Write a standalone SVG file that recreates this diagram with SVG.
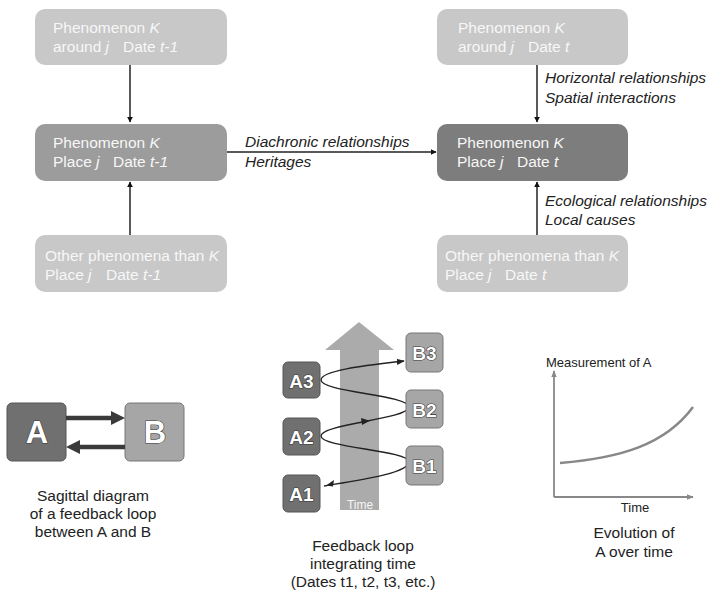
<svg xmlns="http://www.w3.org/2000/svg" width="710" height="591" viewBox="0 0 710 591">
<style>
text{font-family:"Liberation Sans",Arial,sans-serif}
.bt{fill:#f7f7f7;font-size:15.5px}
.it{font-style:italic}
.lbl{fill:#222;font-size:15.5px;font-style:italic}
.cap{fill:#222;font-size:15.5px;text-anchor:middle}
.light{fill:#c8c8c8}
.mid{fill:#9c9c9c}
.dark{fill:#7d7d7d}
.conn{stroke:#222;stroke-width:1.5;fill:none}
.big{font-weight:bold;fill:#fff;stroke:#3a3a3a;stroke-width:1.2;paint-order:stroke;text-anchor:middle}
.abox{fill:#707070;stroke:#555;stroke-width:1}
.bbox{fill:#a6a6a6;stroke:#777;stroke-width:1}
</style>
<defs>
<marker id="ah" viewBox="0 0 10 10" refX="9" refY="5" markerWidth="6" markerHeight="6" orient="auto" markerUnits="userSpaceOnUse">
<path d="M0,0 L10,5 L0,10 z" fill="#111"/>
</marker>
<marker id="ahs" viewBox="0 0 10 10" refX="9" refY="5" markerWidth="8" markerHeight="8" orient="auto" markerUnits="userSpaceOnUse">
<path d="M0,1 L10,5 L0,9 z" fill="#222"/>
</marker>
<marker id="ahg" viewBox="0 0 10 10" refX="9" refY="5" markerWidth="7" markerHeight="7" orient="auto" markerUnits="userSpaceOnUse">
<path d="M0,1 L10,5 L0,9 z" fill="#888"/>
</marker>
</defs>

<!-- top section nodes -->
<g id="n-left-top">
<rect class="light" x="35" y="9" width="192" height="56" rx="10"/>
<text class="bt" x="53" y="33">Phenomenon <tspan class="it">K</tspan></text>
<text class="bt" x="53" y="52">around <tspan class="it">j</tspan><tspan x="123">Date </tspan><tspan class="it">t-1</tspan></text>
</g>
<g id="n-left-mid">
<rect class="mid" x="35" y="124" width="192" height="57" rx="10"/>
<text class="bt" x="53" y="148">Phenomenon <tspan class="it">K</tspan></text>
<text class="bt" x="53" y="167">Place <tspan class="it">j</tspan><tspan x="113">Date </tspan><tspan class="it">t-1</tspan></text>
</g>
<g id="n-left-bot">
<rect class="light" x="35" y="235" width="192" height="57" rx="10"/>
<text class="bt" x="45" y="261">Other phenomena than <tspan class="it">K</tspan></text>
<text class="bt" x="45" y="280">Place <tspan class="it">j</tspan><tspan x="106">Date </tspan><tspan class="it">t-1</tspan></text>
</g>
<g id="n-right-top">
<rect class="light" x="437" y="9" width="191" height="56" rx="10"/>
<text class="bt" x="458" y="33">Phenomenon <tspan class="it">K</tspan></text>
<text class="bt" x="458" y="52">around <tspan class="it">j</tspan><tspan x="528">Date </tspan><tspan class="it">t</tspan></text>
</g>
<g id="n-right-mid">
<rect class="dark" x="437" y="124" width="191" height="57" rx="10"/>
<text class="bt" x="457" y="148">Phenomenon <tspan class="it">K</tspan></text>
<text class="bt" x="457" y="167">Place <tspan class="it">j</tspan><tspan x="517">Date </tspan><tspan class="it">t</tspan></text>
</g>
<g id="n-right-bot">
<rect class="light" x="437" y="235" width="191" height="57" rx="10"/>
<text class="bt" x="445" y="261">Other phenomena than <tspan class="it">K</tspan></text>
<text class="bt" x="445" y="280">Place <tspan class="it">j</tspan><tspan x="505">Date </tspan><tspan class="it">t</tspan></text>
</g>

<g id="connectors">
<line class="conn" x1="130" y1="65" x2="130" y2="122" marker-end="url(#ah)"/>
<line class="conn" x1="130" y1="235" x2="130" y2="182" marker-end="url(#ah)"/>
<line class="conn" x1="227" y1="152" x2="436" y2="152" marker-end="url(#ah)"/>
<line class="conn" x1="537" y1="65" x2="537" y2="122" marker-end="url(#ah)"/>
<line class="conn" x1="537" y1="235" x2="537" y2="182" marker-end="url(#ah)"/>
</g>
<g id="labels">
<text class="lbl" x="245" y="147">Diachronic relationships</text>
<text class="lbl" x="245" y="167">Heritages</text>
<text class="lbl" x="545" y="83">Horizontal relationships</text>
<text class="lbl" x="545" y="103">Spatial interactions</text>
<text class="lbl" x="545" y="206">Ecological relationships</text>
<text class="lbl" x="545" y="225">Local causes</text>
</g>

<!-- bottom left: sagittal diagram -->
<g id="sagittal">
<rect class="abox" x="7" y="403" width="59" height="58" rx="5"/>
<rect class="bbox" x="125" y="403" width="59" height="58" rx="5"/>
<text class="big" x="37" y="443" font-size="31">A</text>
<text class="big" x="155" y="443" font-size="31">B</text>
<line x1="66" y1="418" x2="112" y2="418" stroke="#3a3a3a" stroke-width="4.5"/>
<path d="M111,411 L125,418 L111,425 z" fill="#3a3a3a"/>
<line x1="125" y1="447" x2="79" y2="447" stroke="#3a3a3a" stroke-width="4.5"/>
<path d="M80,440 L66,447 L80,454 z" fill="#3a3a3a"/>
<text class="cap" x="93" y="501">Sagittal diagram</text>
<text class="cap" x="93" y="519">of a feedback loop</text>
<text class="cap" x="93" y="537">between A and B</text>
</g>

<!-- middle: feedback loop integrating time -->
<g id="timeloop">
<path d="M359,322 L394,350 L379,350 L379,510 L340,510 L340,350 L325,350 z" fill="#ababab"/>
<text x="360" y="509" font-size="12" fill="#f5f5f5" text-anchor="middle">Time</text>
<path d="M324,486 C360,480 409,473 409,462 C409,450 321,448 321,436 C321,424 409,419 409,407 C409,395 321,392 321,380 C321,370 370,365 404,361" fill="none" stroke="#222" stroke-width="1.4" marker-end="url(#ahs)"/>
<path d="M326,485.5 L334,480 L333,486.5 z" fill="#222"/>
<path d="M370,420.7 L361,418 L362,425 z" fill="#222"/>
<rect class="abox" x="283" y="362" width="37" height="36" rx="5"/>
<rect class="abox" x="283" y="418" width="37" height="37" rx="5"/>
<rect class="abox" x="283" y="475" width="37" height="37" rx="5"/>
<rect class="bbox" x="406" y="333" width="37" height="39" rx="5"/>
<rect class="bbox" x="406" y="390" width="37" height="38" rx="5"/>
<rect class="bbox" x="406" y="446" width="37" height="39" rx="5"/>
<text class="big" x="301.5" y="388" font-size="19">A3</text>
<text class="big" x="301.5" y="444" font-size="19">A2</text>
<text class="big" x="301.5" y="501" font-size="19">A1</text>
<text class="big" x="424.5" y="360" font-size="19">B3</text>
<text class="big" x="424.5" y="417" font-size="19">B2</text>
<text class="big" x="424.5" y="473" font-size="19">B1</text>
<text class="cap" x="363" y="551">Feedback loop</text>
<text class="cap" x="363" y="569">integrating time</text>
<text class="cap" x="363" y="587">(Dates t1, t2, t3, etc.)</text>
</g>

<!-- right: chart -->
<g id="chart">
<text x="546" y="367" font-size="13" fill="#222">Measurement of A</text>
<line x1="554" y1="497" x2="554" y2="371" stroke="#888" stroke-width="1.8" marker-end="url(#ahg)"/>
<line x1="554" y1="497" x2="693" y2="497" stroke="#888" stroke-width="1.8" marker-end="url(#ahg)"/>
<path d="M560,463 C620,458 665,445 693,407" fill="none" stroke="#888" stroke-width="2.5"/>
<text x="635" y="512" font-size="13" fill="#222" text-anchor="middle">Time</text>
<text class="cap" x="634" y="538">Evolution of</text>
<text class="cap" x="634" y="557">A over time</text>
</g>
</svg>
